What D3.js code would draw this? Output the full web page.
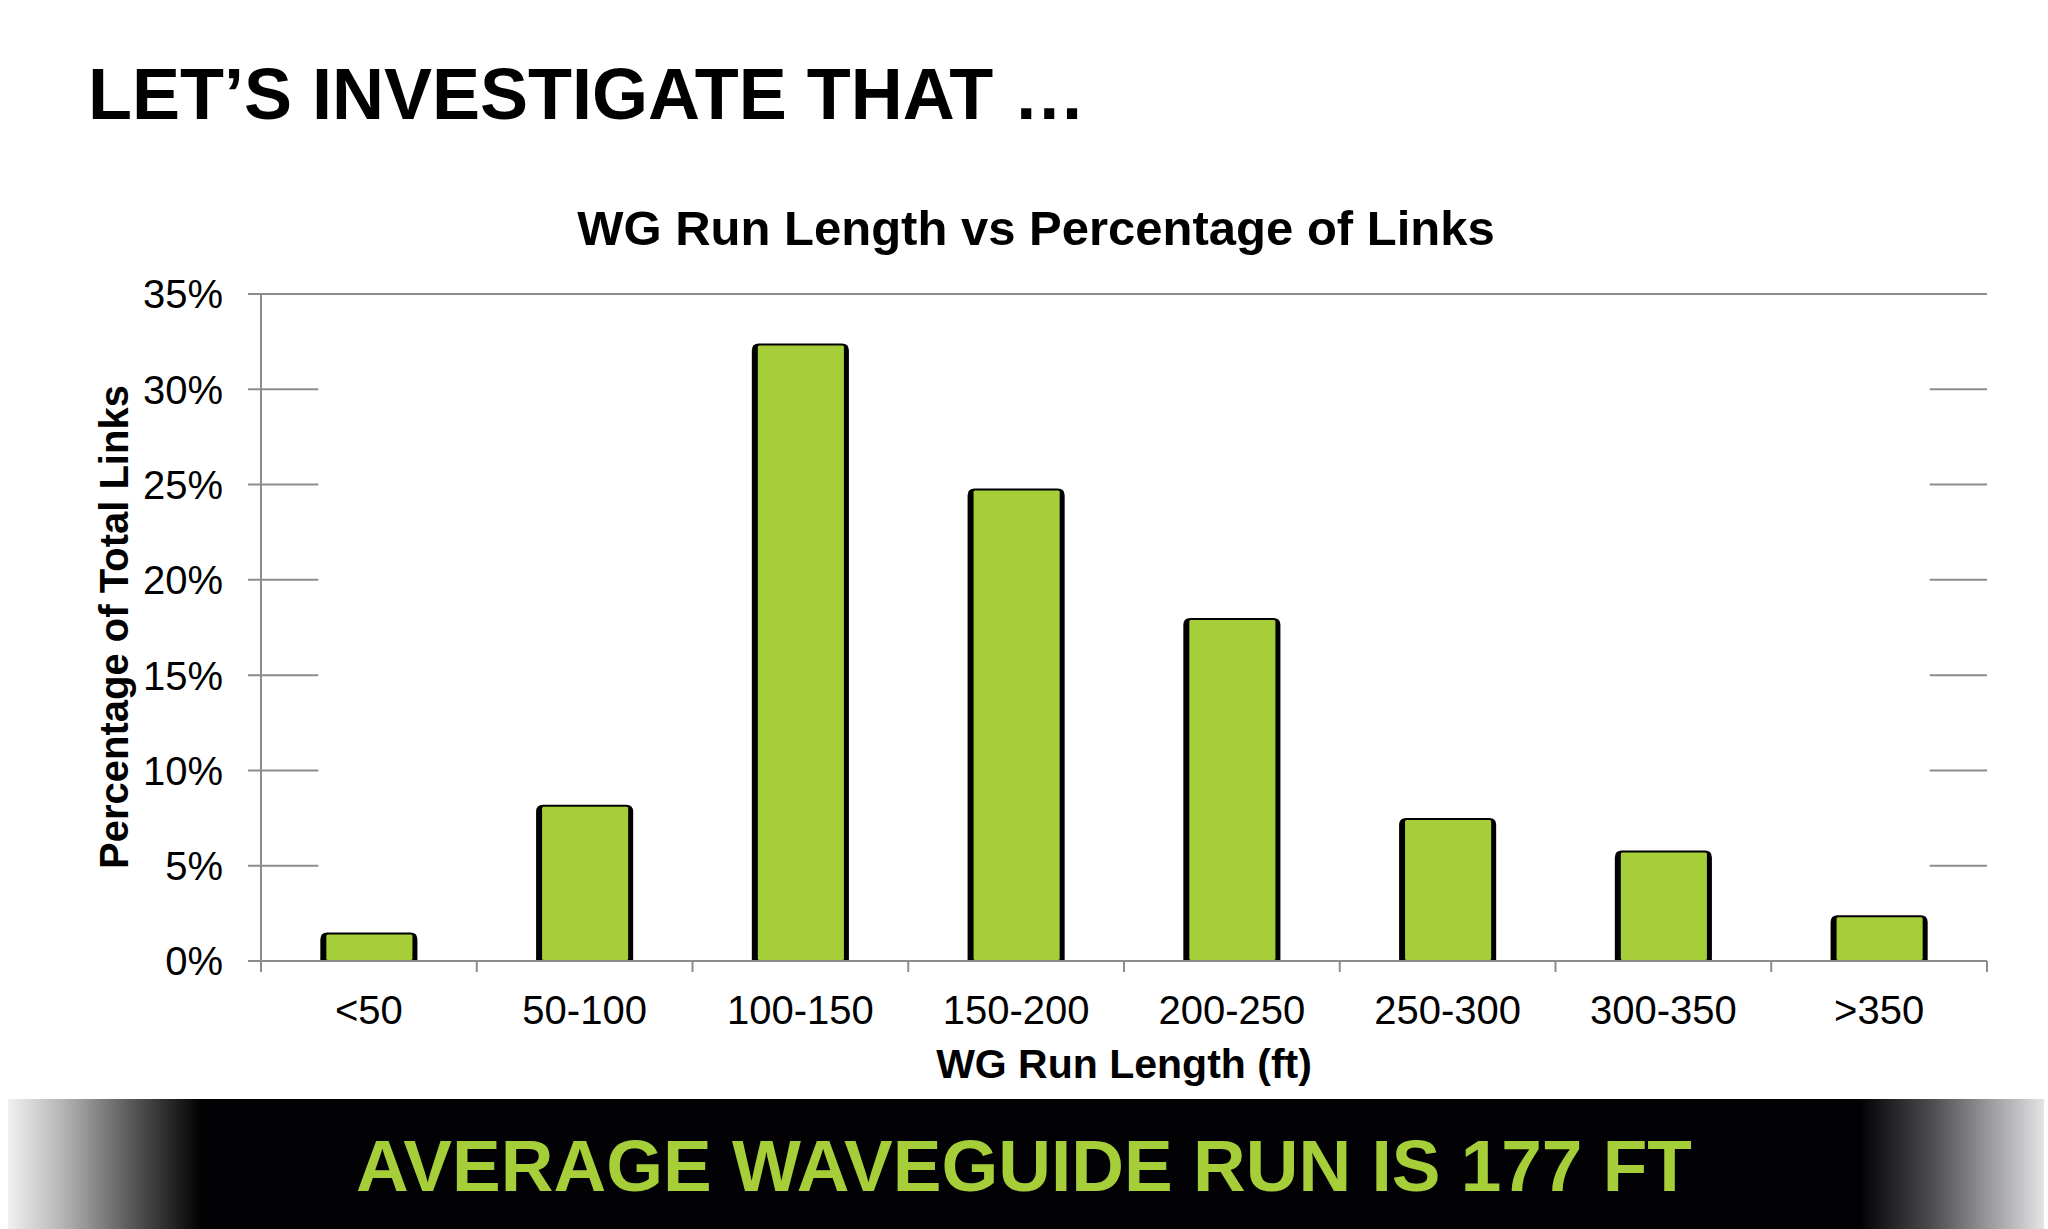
<!DOCTYPE html>
<html>
<head>
<meta charset="utf-8">
<script src="https://cdn.jsdelivr.net/npm/d3@7"></script>
<style>
  html, body { margin: 0; padding: 0; background: #ffffff; }
  svg { display: block; }
  text { font-family: "Liberation Sans", Arial, Helvetica, sans-serif; }
</style>
</head>
<body>
<svg id="chart" width="2048" height="1229"></svg>
<script>
// ---- data ----
const pageTitle = "LET\u2019S INVESTIGATE THAT \u2026";
const chartTitle = "WG Run Length vs Percentage of Links";
const xAxisTitle = "WG Run Length (ft)";
const yAxisTitle = "Percentage of Total Links";
const bannerText = "AVERAGE WAVEGUIDE RUN IS 177 FT";
const categories = ["<50", "50-100", "100-150", "150-200", "200-250", "250-300", "300-350", ">350"];
const percentages = [1.5, 8.2, 32.4, 24.8, 18.0, 7.5, 5.8, 2.4];
const yTickValues = [0, 5, 10, 15, 20, 25, 30, 35];
const yTickLabels = ["0%", "5%", "10%", "15%", "20%", "25%", "30%", "35%"];

// ---- layout ----
const W = 2048, H = 1229;
const plot = { left: 261, right: 1987, top: 294, bottom: 961 };
const green = "#a6ce39";
const gridColor = "#8c8c8c";

const svg = d3.select("#chart");
svg.append("rect").attr("width", W).attr("height", H).attr("fill", "#ffffff");

const x = d3.scaleBand().domain(categories).range([plot.left, plot.right])
  .paddingInner(0.55).paddingOuter(0.275);
const y = d3.scaleLinear().domain([0, 35]).range([plot.bottom, plot.top]);

// page title
svg.append("text").attr("x", 88).attr("y", 119)
  .attr("font-size", 72).attr("font-weight", "bold").attr("fill", "#000")
  .text(pageTitle);

// chart title
svg.append("text").attr("x", 1036).attr("y", 245)
  .attr("text-anchor", "middle")
  .attr("font-size", 49).attr("font-weight", "bold").attr("fill", "#000")
  .text(chartTitle);

// gridlines (visible only outside the bar span, full at the top)
const firstLeft = x(categories[0]);
const lastRight = x(categories[categories.length - 1]) + x.bandwidth();
const grid = svg.append("g");
yTickValues.forEach(v => {
  if (v === 0) return;
  if (v === 35) {
    grid.append("line").attr("x1", plot.left - 13).attr("x2", plot.right)
      .attr("y1", y(v)).attr("y2", y(v))
      .attr("stroke", gridColor).attr("stroke-width", 2);
  } else {
    grid.append("line").attr("x1", plot.left - 13).attr("x2", firstLeft - 2)
      .attr("y1", y(v)).attr("y2", y(v))
      .attr("stroke", gridColor).attr("stroke-width", 2);
    grid.append("line").attr("x1", lastRight + 2).attr("x2", plot.right)
      .attr("y1", y(v)).attr("y2", y(v))
      .attr("stroke", gridColor).attr("stroke-width", 2);
  }
});

// y axis line + zero tick
svg.append("line").attr("x1", plot.left).attr("x2", plot.left)
  .attr("y1", y(35)).attr("y2", y(0) + 11)
  .attr("stroke", gridColor).attr("stroke-width", 2);
svg.append("line").attr("x1", plot.left - 13).attr("x2", plot.left)
  .attr("y1", y(0)).attr("y2", y(0))
  .attr("stroke", gridColor).attr("stroke-width", 2);

// y tick labels
svg.append("g").selectAll("text").data(yTickValues).join("text")
  .attr("x", 223).attr("y", d => y(d)).attr("dy", "0.36em")
  .attr("text-anchor", "end").attr("font-size", 40).attr("fill", "#000")
  .text((d, i) => yTickLabels[i]);

// bars
const r = 7;
const bars = svg.append("g");
categories.forEach((c, i) => {
  const x0 = x(c), w = x.bandwidth();
  const yt = y(percentages[i]), yb = y(0);
  const p = d3.path();
  p.moveTo(x0, yb);
  p.lineTo(x0, yt + r);
  p.quadraticCurveTo(x0, yt, x0 + r, yt);
  p.lineTo(x0 + w - r, yt);
  p.quadraticCurveTo(x0 + w, yt, x0 + w, yt + r);
  p.lineTo(x0 + w, yb);
  p.closePath();
  bars.append("path").attr("d", p.toString()).attr("fill", "#000");
  bars.append("rect").attr("x", x0 + 6).attr("y", yt + 2)
    .attr("width", w - 11).attr("height", Math.max(0, yb - yt - 3))
    .attr("rx", 1.5).attr("fill", green);
});

// x axis line
svg.append("line").attr("x1", plot.left).attr("x2", plot.right)
  .attr("y1", y(0)).attr("y2", y(0))
  .attr("stroke", gridColor).attr("stroke-width", 2);
// x ticks at band boundaries
const boundaries = categories.map(c => x(c) - x.step() * x.paddingInner() / 2);
boundaries.push(plot.right);
svg.append("g").selectAll("line").data(boundaries).join("line")
  .attr("x1", d => d).attr("x2", d => d)
  .attr("y1", y(0)).attr("y2", y(0) + 11)
  .attr("stroke", gridColor).attr("stroke-width", 2);

// x labels
svg.append("g").selectAll("text").data(categories).join("text")
  .attr("x", d => x(d) + x.bandwidth() / 2).attr("y", 1024)
  .attr("text-anchor", "middle").attr("font-size", 40).attr("fill", "#000")
  .text(d => d);

// axis titles
svg.append("text").attr("x", (plot.left + plot.right) / 2).attr("y", 1078)
  .attr("text-anchor", "middle").attr("font-size", 41).attr("font-weight", "bold")
  .attr("fill", "#000").text(xAxisTitle);
svg.append("text")
  .attr("transform", "translate(128,627) rotate(-90)")
  .attr("text-anchor", "middle").attr("font-size", 40).attr("font-weight", "bold")
  .attr("fill", "#000").text(yAxisTitle);

// bottom banner
const defs = svg.append("defs");
const bx0 = 8, bx1 = 2044;
const grad = defs.append("linearGradient").attr("id", "bannerGrad")
  .attr("gradientUnits", "userSpaceOnUse")
  .attr("x1", bx0).attr("x2", bx1).attr("y1", 0).attr("y2", 0);
const off = v => ((v - bx0) / (bx1 - bx0));
[[bx0, "#f0f0f0"], [60, "#b8b8b8"], [130, "#5a5a5a"], [200, "#020204"],
 [1860, "#020204"], [1930, "#4a4a4c"], [2000, "#a8a8aa"], [bx1, "#e4e4e6"]]
  .forEach(([px, col]) => grad.append("stop").attr("offset", off(px)).attr("stop-color", col));
svg.append("rect").attr("x", bx0).attr("y", 1099).attr("width", bx1 - bx0).attr("height", H - 1099)
  .attr("fill", "url(#bannerGrad)");
svg.append("text").attr("x", 1024).attr("y", 1191)
  .attr("text-anchor", "middle").attr("font-size", 73).attr("font-weight", "bold")
  .attr("fill", green).text(bannerText);
</script>
</body>
</html>
